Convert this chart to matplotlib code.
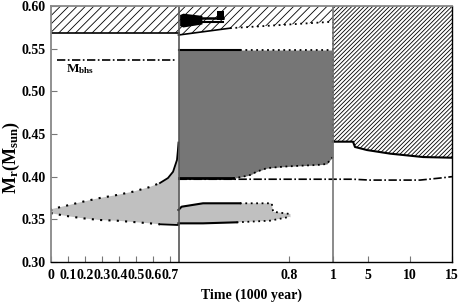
import numpy as np
import matplotlib
matplotlib.use("Agg")
import matplotlib.pyplot as plt

plt.rcParams['font.family'] = ['Liberation Serif', 'DejaVu Serif']
plt.rcParams['font.weight'] = 'bold'
plt.rcParams['mathtext.fontset'] = 'custom'
plt.rcParams['mathtext.rm'] = 'Liberation Serif:bold'
plt.rcParams['mathtext.it'] = 'Liberation Serif:bold'
plt.rcParams['mathtext.bf'] = 'Liberation Serif:bold'
plt.rcParams['hatch.linewidth'] = 0.6
plt.rcParams['hatch.color'] = 'black'

# --- broken time axis (1000 yr): three linear-ish pieces ---
t_anch = [0, 0.75, 0.8, 1, 5, 10, 15]
p_anch = [0, 127.5, 238, 282, 317, 359, 401]

def fwd(t):
    return np.interp(t, t_anch, p_anch)

def inv(p):
    return np.interp(p, p_anch, t_anch)

xticks = [0, 0.1, 0.2, 0.3, 0.4, 0.5, 0.6, 0.7, 0.8, 1, 5, 10, 15]
xtick_labels = ["0", "0.1", "0.2", "0.3", "0.4", "0.5", "0.6", "0.7", "0.8", "1", "5", "10", "15"]
yticks = [0.30, 0.35, 0.40, 0.45, 0.50, 0.55, 0.60]

t_flash = 0.75
t_end1 = 1.0

# first He-flash convective zone (light grey, before flash)
cz1_up_t = [0, 0.004, 0.082, 0.188, 0.288, 0.388, 0.482, 0.582, 0.641, 0.688, 0.718, 0.735, 0.741, 0.746, 0.75]
cz1_up_m = [0.360, 0.362, 0.3656, 0.3707, 0.375, 0.3785, 0.3824, 0.3879, 0.3926, 0.3984, 0.4058, 0.416, 0.4196, 0.43, 0.44]
cz1_lo_t = [0, 0.004, 0.092, 0.188, 0.288, 0.388, 0.482, 0.582, 0.641, 0.741, 0.75]
cz1_lo_m = [0.358, 0.357, 0.3539, 0.3512, 0.3492, 0.3484, 0.3469, 0.3453, 0.3442, 0.3434, 0.3434]

# second small convective zone after flash (light grey)
cz2_up_t = [0.75, 0.7514, 0.7611, 0.7778, 0.7922, 0.7928, 0.8064]
cz2_up_m = [0.361, 0.3648, 0.3688, 0.3688, 0.3688, 0.3589, 0.3562]
cz2_lo_t = [0.75, 0.7611, 0.7763, 0.7914, 0.8064]
cz2_lo_m = [0.3453, 0.3453, 0.3465, 0.3484, 0.3531]

# big convective zone (dark grey)
cz3_top_t = [0.75, 0.7778, 1.0]
cz3_top_m = [0.5484, 0.5484, 0.5484]
cz3_lo_t = [0.75, 0.7747, 0.7792, 0.7824, 0.7855, 0.79, 0.7973, 0.85, 0.9273, 0.9727, 0.9864, 1.0]
cz3_lo_m = [0.398, 0.398, 0.400, 0.402, 0.406, 0.410, 0.4117, 0.4128, 0.4137, 0.4149, 0.4196, 0.423]

# envelope convection (hatched)
env1_t = [0, 0.75]
env1_m = [0.568, 0.568]
env2_t = [0.75, 0.7733, 1.0]
env2_m = [0.566, 0.574, 0.5816]
env3_t = [1, 3.286, 3.514, 4.886, 7.619, 11.548, 15]
env3_m = [0.441, 0.441, 0.4348, 0.4312, 0.427, 0.423, 0.4222]

# bottom of H-burning shell
bhs1_t = [0.035, 0.735]
bhs1_m = [0.537, 0.537]
bhs2_t = [0.75, 1.0, 3.3, 5.2, 11.2, 13.6, 15]
bhs2_m = [0.397, 0.397, 0.397, 0.396, 0.396, 0.3984, 0.400]

fig = plt.figure(figsize=(4.58, 3.03), dpi=100)
ax = fig.add_axes([51 / 458, 1 - 262 / 303, 401 / 458, 256 / 303])
ax.set_xscale('function', functions=(fwd, inv))
ax.set_xlim(0, 15)
ax.set_ylim(0.30, 0.60)

# hatched envelope regions
for tt, mm, h in [(env1_t, env1_m, '////'), (env2_t, env2_m, '////'), (env3_t, env3_m, '////////')]:
    ax.fill_between(tt, mm, 0.60, facecolor='white', edgecolor='black', hatch=h, linewidth=0)
ax.plot(env1_t, env1_m, color='black', lw=1.2)
ax.plot(env2_t[:2], env2_m[:2], color='black', lw=1.2)
ax.plot(env2_t[1:], env2_m[1:], color='black', lw=1.3, ls=(0, (1, 2)))
ax.plot(env3_t, env3_m, color='black', lw=1.5)

# small convective blobs inside the envelope after the flash
ax.fill_between([0.7505, 0.752, 0.7606], [0.590, 0.5916, 0.589], [0.577, 0.5754, 0.579], color='black', lw=0)
ax.plot([0.7606, 0.7701], [0.5855, 0.5855], color='black', lw=1.8)
ax.plot([0.7606, 0.7701], [0.5815, 0.5815], color='black', lw=1.5)
ax.fill_between([0.7675, 0.7705], [0.594, 0.594], [0.584, 0.584], color='black', lw=0)

# first convective zone
ax.fill(cz1_up_t + cz1_lo_t[::-1], cz1_up_m + cz1_lo_m[::-1], color='#c0c0c0', lw=0)
ax.plot(cz1_up_t[:9], cz1_up_m[:9], color='black', lw=1.5, ls=(0, (1, 3)))
ax.plot(cz1_up_t[8:], cz1_up_m[8:], color='black', lw=1.3)
ax.plot(cz1_lo_t[:9], cz1_lo_m[:9], color='black', lw=1.5, ls=(0, (1, 3)))
ax.plot(cz1_lo_t[8:], cz1_lo_m[8:], color='black', lw=1.3)

# second convective zone
ax.fill(cz2_up_t + cz2_lo_t[::-1], cz2_up_m + cz2_lo_m[::-1], color='#c0c0c0', lw=0)
ax.plot(cz2_up_t[:4], cz2_up_m[:4], color='black', lw=1.5)
ax.plot(cz2_up_t[3:], cz2_up_m[3:], color='black', lw=1.3, ls=(0, (1, 2)))
ax.plot(cz2_lo_t[:3], cz2_lo_m[:3], color='black', lw=1.5)
ax.plot(cz2_lo_t[2:], cz2_lo_m[2:], color='black', lw=1.3, ls=(0, (1, 2)))

# big convective zone
ax.fill_between(cz3_lo_t, cz3_lo_m, 0.5484, color='#767676', lw=0)
ax.plot(cz3_top_t[:2], cz3_top_m[:2], color='black', lw=1.5)
ax.plot(cz3_top_t[1:], cz3_top_m[1:], color='black', lw=1.3, ls=(0, (1, 2)))
ax.plot(cz3_lo_t[:2], cz3_lo_m[:2], color='black', lw=2)
ax.plot(cz3_lo_t[1:], cz3_lo_m[1:], color='black', lw=1.3, ls=(0, (1, 2)))
ax.plot([t_end1, t_end1], [0.441, 0.5816], color='black', lw=1.3, ls=(0, (1, 2)))

# M_bhs
ax.plot(bhs1_t, bhs1_m, color='black', lw=1.2, ls=(0, (5, 1.5, 1, 1.5)))
ax.plot(bhs2_t, bhs2_m, color='black', lw=1.2, ls=(0, (5, 1.5, 1, 1.5)))
ax.text(0.088, 0.526, r'$\mathrm{M_{bhs}}$', fontsize=9.5, va='center', ha='left')

# flash markers
ax.axvline(t_flash, color='#555555', lw=1.2)
ax.axvline(t_end1, color='#777777', lw=1.2)

ax.set_xticks(xticks)
ax.set_xticklabels(xtick_labels)
ax.set_yticks(yticks)
ax.set_yticklabels(["%.2f" % v for v in yticks])
ax.tick_params(axis='both', direction='in', length=4, labelsize=10, color='#777777')
ax.tick_params(axis='x', pad=5)
ax.tick_params(axis='y', pad=4)
ax.minorticks_off()

for s in ['left', 'top']:
    ax.spines[s].set_color('#888888')
    ax.spines[s].set_linewidth(1.3)
for s in ['bottom', 'right']:
    ax.spines[s].set_color('black')
    ax.spines[s].set_linewidth(1.0)

ax.set_xlabel('Time (1000 year)', fontsize=10, fontweight='bold')
ax.set_ylabel(r'$\mathrm{M_r(M_{sun})}$', fontsize=13)
ax.yaxis.set_label_coords(-0.072, 0.41)
ax.xaxis.set_label_coords(0.5, -0.105)

fig.savefig('out.png', dpi=100)
